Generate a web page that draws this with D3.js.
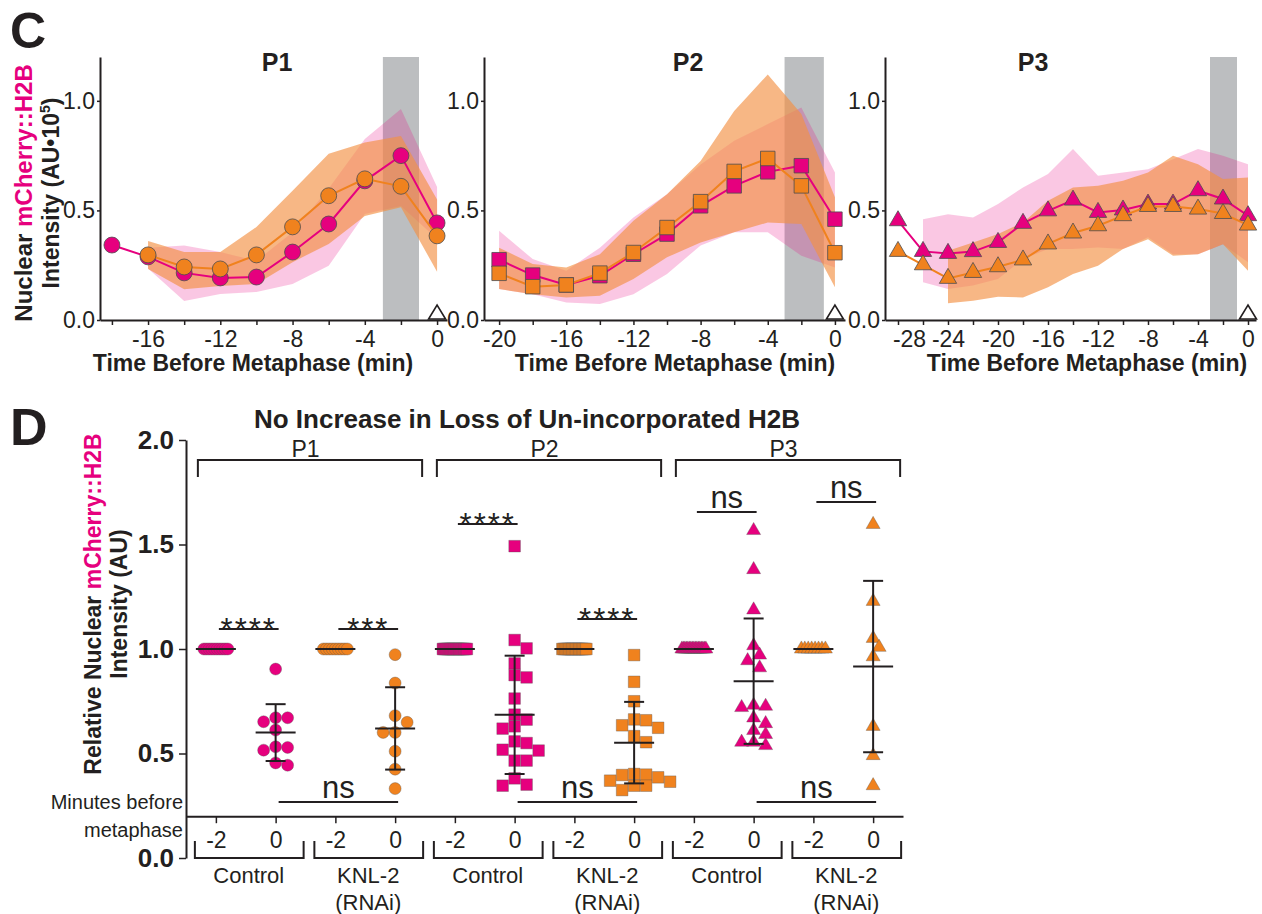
<!DOCTYPE html>
<html>
<head>
<meta charset="utf-8">
<script src="https://cdn.jsdelivr.net/npm/d3@7"></script>
<style>
  body { margin: 0; background: #fff; }
  text { font-family: "Liberation Sans", Arial, sans-serif; fill: #231f20; }
</style>
</head>
<body>
<svg id="fig" width="1262" height="914"></svg>
<script>
// ---------- Panel C : nuclear mCherry::H2B over time (AU x 10^5) ----------
const p1Times = [-18, -16, -14, -12, -10, -8, -6, -4, -2, 0];
const p1CtrlMean = [0.342, 0.288, 0.215, 0.192, 0.196, 0.31, 0.438, 0.635, 0.75, 0.443];
const p1CtrlLo   = [null, 0.235, 0.087, 0.119, 0.128, 0.164, 0.247, 0.484, 0.52, 0.37];
const p1CtrlHi   = [null, 0.33, 0.34, 0.31, 0.27, 0.40, 0.60, 0.826, 0.963, 0.607];
const p1KnlMean  = [null, 0.297, 0.242, 0.233, 0.297, 0.425, 0.567, 0.644, 0.61, 0.384];
const p1KnlLo    = [null, 0.233, 0.14, 0.155, 0.164, 0.264, 0.347, 0.475, 0.515, 0.22];
const p1KnlHi    = [null, 0.36, 0.31, 0.31, 0.424, 0.59, 0.758, 0.81, 0.84, 0.55];

const p2Times = [-20, -18, -16, -14, -12, -10, -8, -6, -4, -2, 0];
const p2CtrlMean = [0.275, 0.205, 0.16, 0.202, 0.30, 0.392, 0.521, 0.612, 0.676, 0.704, 0.46];
const p2CtrlLo   = [0.141, 0.118, 0.08, 0.073, 0.118, 0.21, 0.34, 0.40, 0.40, 0.293, 0.24];
const p2CtrlHi   = [0.407, 0.278, 0.225, 0.33, 0.468, 0.574, 0.71, 0.818, 0.894, 0.97, 0.673];
const p2KnlMean  = [0.213, 0.152, 0.16, 0.214, 0.308, 0.422, 0.54, 0.678, 0.737, 0.612, 0.307];
const p2KnlLo    = [0.141, 0.118, 0.103, 0.111, 0.187, 0.286, 0.354, 0.40, 0.445, 0.438, 0.149];
const p2KnlHi    = [0.33, 0.255, 0.24, 0.30, 0.453, 0.574, 0.726, 0.954, 1.12, 0.94, 0.56];

const p3Times = [-28, -26, -24, -22, -20, -18, -16, -14, -12, -10, -8, -6, -4, -2, 0];
const p3CtrlMean = [0.453, 0.313, 0.304, 0.312, 0.354, 0.441, 0.498, 0.547, 0.491, 0.502, 0.529, 0.529, 0.59, 0.552, 0.476];
const p3CtrlLo   = [null, 0.172, 0.141, 0.157, 0.187, 0.278, 0.324, 0.324, 0.331, 0.324, 0.377, 0.30, 0.30, 0.346, 0.263];
const p3CtrlHi   = [null, 0.46, 0.483, 0.468, 0.529, 0.605, 0.666, 0.78, 0.658, 0.673, 0.688, 0.734, 0.78, 0.75, 0.711];
const p3KnlMean  = [0.313, 0.252, 0.19, 0.217, 0.243, 0.274, 0.347, 0.397, 0.43, 0.476, 0.518, 0.518, 0.506, 0.486, 0.433];
const p3KnlLo    = [null, null, 0.076, 0.088, 0.106, 0.103, 0.149, 0.21, 0.248, 0.324, 0.369, 0.293, 0.30, 0.346, 0.225];
const p3KnlHi    = [null, null, 0.316, 0.354, 0.392, 0.445, 0.544, 0.605, 0.612, 0.635, 0.673, 0.75, 0.711, 0.643, 0.65];

// ---------- Panel D : relative intensity at -2 and 0 min ----------
const catLabels = ["-2", "0", "-2", "0", "-2", "0", "-2", "0", "-2", "0", "-2", "0"];
const condLabels = ["Control", "KNL-2|(RNAi)", "Control", "KNL-2|(RNAi)", "Control", "KNL-2|(RNAi)"];
const cellLabels = ["P1", "P2", "P3"];

const dP1CtrlM2 = [1, 1, 1, 1, 1, 1, 1, 1, 1, 1];
const dP1CtrlZ  = [0.904, 0.671, 0.652, 0.671, 0.612, 0.532, 0.516, 0.529, 0.444, 0.455];
const dP1KnlM2  = [1, 1, 1, 1, 1, 1, 1, 1, 1];
const dP1KnlZ   = [0.973, 0.837, 0.681, 0.649, 0.601, 0.601, 0.511, 0.425, 0.332];
const dP2CtrlM2 = [1, 1, 1, 1, 1, 1, 1, 1, 1, 1, 1, 1, 1, 1, 1, 1, 1, 1, 1, 1];
const dP2CtrlZ  = [1.492, 1.043, 1.003, 0.931, 0.875, 0.864, 0.763, 0.686, 0.662, 0.619, 0.630, 0.55, 0.558, 0.518, 0.514, 0.466, 0.466, 0.381, 0.346, 0.351];
const dP2KnlM2  = [1, 1, 1, 1, 1, 1, 1, 1, 1, 1, 1, 1, 1, 1, 1, 1, 1, 1];
const dP2KnlZ   = [0.971, 0.843, 0.75, 0.659, 0.623, 0.635, 0.663, 0.583, 0.554, 0.397, 0.402, 0.37, 0.399, 0.365, 0.346, 0.325, 0.346, 0.386];
const dP3CtrlM2 = [1, 1, 1, 1, 1, 1, 1, 1, 1, 1, 1, 1, 1, 1, 1, 1, 1];
const dP3CtrlZ  = [1.567, 1.38, 1.187, 1.016, 0.944, 0.971, 0.91, 0.726, 0.731, 0.72, 0.67, 0.643, 0.61, 0.591, 0.554, 0.554, 0.538];
const dP3KnlM2  = [1, 1, 1, 1, 1, 1, 1, 1];
const dP3KnlZ   = [1.596, 1.228, 1.051, 1.008, 0.963, 0.63, 0.49, 0.346];

const groupMean = [1, 0.60, 1, 0.62, 1, 0.685, 1, 0.552, 1, 0.846, 1, 0.916];
const groupSD   = [0, 0.136, 0, 0.197, 0, 0.283, 0, 0.195, 0, 0.30, 0, 0.41];

// significance: [from category, to category, height (AU), label]
const sigTests = [
  [0, 1, 1.096, "****"], [2, 3, 1.096, "***"],
  [4, 5, 1.598, "****"], [6, 7, 1.144, "****"],
  [8, 9, 1.656, "ns"], [10, 11, 1.703, "ns"],
  [1, 3, 0.268, "ns"], [5, 7, 0.268, "ns"], [9, 11, 0.268, "ns"]
];

const MAG = "#e6007e", ORG = "#f0821e";
const svg = d3.select("#fig");

// panel letters
svg.append("text").attr("x", 10).attr("y", 48).attr("font-size", 50).attr("font-weight", "bold").text("C");
svg.append("text").attr("x", 10).attr("y", 445).attr("font-size", 52).attr("font-weight", "bold").text("D");

function rows(times, m, lo, hi) {
  return times.map((t, i) => ({ t: t, m: m[i], lo: lo[i], hi: hi[i] }));
}

const panels = [
  { title: "P1", titleX: 277, axTitleX: 253, shape: d3.symbolCircle, size: 200,
    xr: [100, 447], dom: [-18.66, 0.55], win: [-3, -1], times: p1Times,
    ctrl: rows(p1Times, p1CtrlMean, p1CtrlLo, p1CtrlHi), knl: rows(p1Times, p1KnlMean, p1KnlLo, p1KnlHi) },
  { title: "P2", titleX: 688, axTitleX: 675, shape: d3.symbolSquare, size: 210,
    xr: [484, 845], dom: [-20.9, 0.6], win: [-3, -0.66], times: p2Times,
    ctrl: rows(p2Times, p2CtrlMean, p2CtrlLo, p2CtrlHi), knl: rows(p2Times, p2KnlMean, p2KnlLo, p2KnlHi) },
  { title: "P3", titleX: 1033, axTitleX: 1087, shape: d3.symbolTriangle, size: 130,
    xr: [885, 1256], dom: [-29.04, 0.64], win: [-3.04, -0.88], times: p3Times,
    ctrl: rows(p3Times, p3CtrlMean, p3CtrlLo, p3CtrlHi), knl: rows(p3Times, p3KnlMean, p3KnlLo, p3KnlHi) }
];

const yC = d3.scaleLinear().domain([0, 1.2]).range([320, 57]);

panels.forEach(p => {
  const x = d3.scaleLinear().domain(p.dom).range(p.xr);
  const g = svg.append("g");

  g.append("rect")
    .attr("x", x(p.win[0])).attr("width", x(p.win[1]) - x(p.win[0]))
    .attr("y", yC(1.2)).attr("height", yC(0) - yC(1.2))
    .attr("fill", "#bcbec0");

  const area = d3.area().defined(d => d.hi != null)
    .x(d => x(d.t)).y0(d => yC(d.lo)).y1(d => yC(d.hi));
  const line = d3.line().defined(d => d.m != null)
    .x(d => x(d.t)).y(d => yC(d.m));

  g.append("path").datum(p.ctrl).attr("d", area).attr("fill", MAG).attr("fill-opacity", 0.22);
  g.append("path").datum(p.knl).attr("d", area).attr("fill", "#f39044").attr("fill-opacity", 0.65);

  [[p.ctrl, MAG], [p.knl, ORG]].forEach(([data, col]) => {
    g.append("path").datum(data).attr("d", line)
      .attr("fill", "none").attr("stroke", col).attr("stroke-width", 2);
    g.selectAll(null).data(data.filter(d => d.m != null)).enter()
      .append("path")
      .attr("transform", d => `translate(${x(d.t)},${yC(d.m)})`)
      .attr("d", d3.symbol().type(p.shape).size(p.size))
      .attr("fill", col).attr("stroke", "#4d4d4f").attr("stroke-width", 0.8);
  });

  // metaphase marker (open triangle at 0)
  const x0 = x(0), yb = yC(0) - 1;
  g.append("path")
    .attr("d", `M${x0 - 8.5},${yb} L${x0 + 8.5},${yb} L${x0},${yb - 14} Z`)
    .attr("fill", "#fff").attr("stroke", "#231f20").attr("stroke-width", 1.6);

  const ax = g.append("g").attr("transform", `translate(0,${yC(0)})`)
    .call(d3.axisBottom(x).tickValues(d3.range(p.times[0], 1, 2))
      .tickFormat(d => d % 4 === 0 ? String(d) : "").tickSize(5).tickSizeOuter(0).tickPadding(6));
  ax.selectAll("text").attr("font-size", 23).attr("font-family", null)
    .attr("dx", d => d === -28 ? 11 : 0);

  const ay = g.append("g").attr("transform", `translate(${p.xr[0]},0)`)
    .call(d3.axisLeft(yC).tickValues([0, 0.5, 1]).tickFormat(d3.format(".1f"))
      .tickSize(3).tickSizeOuter(0).tickPadding(2));
  ay.selectAll("text").attr("font-size", 23).attr("font-family", null);

  [ax, ay].forEach(a => {
    a.select(".domain").attr("stroke", "#231f20").attr("stroke-width", 2);
    a.selectAll(".tick line").attr("stroke", "#231f20").attr("stroke-width", 1.5);
  });

  g.append("text").attr("x", p.titleX).attr("y", 71).attr("text-anchor", "middle")
    .attr("font-size", 25).attr("font-weight", "bold").text(p.title);
  g.append("text").attr("x", p.axTitleX).attr("y", 371).attr("text-anchor", "middle")
    .attr("font-size", 23).attr("font-weight", "bold").text("Time Before Metaphase (min)");
});

// y title panel C
const yt1 = svg.append("text").attr("transform", "translate(32,193) rotate(-90)")
  .attr("text-anchor", "middle").attr("font-size", 24).attr("font-weight", "bold");
yt1.append("tspan").text("Nuclear ");
yt1.append("tspan").style("fill", MAG).text("mCherry::H2B");
const yt2 = svg.append("text").attr("transform", "translate(59,193) rotate(-90)")
  .attr("text-anchor", "middle").attr("font-size", 23).attr("font-weight", "bold");
yt2.append("tspan").text("Intensity (AU\u202210");
yt2.append("tspan").attr("font-size", 14).attr("dy", -9).text("5");
yt2.append("tspan").attr("dy", 9).text(")");

// ---------- Panel D ----------
const xD = d3.scalePoint().domain(d3.range(12)).range([186, 903]).padding(0.5);
const yD = d3.scaleLinear().domain([0, 2]).range([858, 440]);
const dg = svg.append("g");

dg.append("text").attr("x", 527).attr("y", 428).attr("text-anchor", "middle")
  .attr("font-size", 26).attr("font-weight", "bold").text("No Increase in Loss of Un-incorporated H2B");

const groups = [dP1CtrlM2, dP1CtrlZ, dP1KnlM2, dP1KnlZ, dP2CtrlM2, dP2CtrlZ, dP2KnlM2, dP2KnlZ,
                dP3CtrlM2, dP3CtrlZ, dP3KnlM2, dP3KnlZ];
const dShapes = [d3.symbolCircle, d3.symbolSquare, d3.symbolTriangle];
const dSizes = [113, 135, 85];

function swarm(vals, d) {
  const n = vals.length;
  if (vals.every(v => v === vals[0])) return vals.map((v, i) => n === 1 ? 0 : -12 + 24 * i / (n - 1));
  const off = new Array(n), placed = [];
  d3.range(n).sort((a, b) => vals[b] - vals[a]).forEach(i => {
    const py = yD(vals[i]);
    for (let k = 0; k < 60; k++) {
      const o = (k % 2 ? 1 : -1) * Math.ceil(k / 2) * d / 2;
      if (placed.every(q => Math.hypot(q.x - o, q.y - py) >= d * 0.9)) {
        off[i] = o; placed.push({ x: o, y: py }); break;
      }
    }
  });
  return off;
}

groups.forEach((vals, gi) => {
  const cell = Math.floor(gi / 4);
  const col = (Math.floor(gi / 2) % 2) ? ORG : MAG;
  const offs = swarm(vals, 12);
  dg.selectAll(null).data(vals).enter().append("path")
    .attr("transform", (v, i) => `translate(${xD(gi) + offs[i]},${yD(v)})`)
    .attr("d", d3.symbol().type(dShapes[cell]).size(dSizes[cell]))
    .attr("fill", col).attr("stroke", "#555").attr("stroke-opacity", 0.6).attr("stroke-width", 0.6);
});

// mean +/- SD
groupMean.forEach((m, gi) => {
  const cx = xD(gi);
  dg.append("line").attr("x1", cx - 20).attr("x2", cx + 20).attr("y1", yD(m)).attr("y2", yD(m))
    .attr("stroke", "#231f20").attr("stroke-width", 2);
  const s = groupSD[gi];
  if (s > 0) {
    dg.append("line").attr("x1", cx).attr("x2", cx).attr("y1", yD(m - s)).attr("y2", yD(m + s))
      .attr("stroke", "#231f20").attr("stroke-width", 2);
    [m - s, m + s].forEach(v => dg.append("line").attr("x1", cx - 10).attr("x2", cx + 10)
      .attr("y1", yD(v)).attr("y2", yD(v)).attr("stroke", "#231f20").attr("stroke-width", 2));
  }
});

// axes
const axD = dg.append("g").attr("transform", `translate(0,${yD(0.2)})`)
  .call(d3.axisBottom(xD).tickFormat(i => catLabels[i]).tickSize(7).tickSizeOuter(0).tickPadding(8));
axD.selectAll("text").attr("font-size", 23).attr("font-family", null);
const ayD = dg.append("g").attr("transform", "translate(186,0)")
  .call(d3.axisLeft(yD).tickValues([0, 0.5, 1, 1.5, 2]).tickFormat(d3.format(".1f"))
    .tickSize(7).tickSizeOuter(0).tickPadding(5));
ayD.selectAll("text").attr("font-size", 26).attr("font-weight", "bold").attr("font-family", null);
[axD, ayD].forEach(a => {
  a.select(".domain").attr("stroke", "#231f20").attr("stroke-width", 2);
  a.selectAll(".tick line").attr("stroke", "#231f20").attr("stroke-width", 1.5);
});

dg.append("text").attr("x", 183).attr("y", 809).attr("text-anchor", "end").attr("font-size", 20).text("Minutes before");
dg.append("text").attr("x", 183).attr("y", 837).attr("text-anchor", "end").attr("font-size", 20).text("metaphase");

// condition brackets
condLabels.forEach((lab, k) => {
  const x1 = xD(2 * k) - 21, x2 = xD(2 * k + 1) + 28;
  dg.append("path").attr("d", `M${x1},841V858H${x2}V841`)
    .attr("fill", "none").attr("stroke", "#231f20").attr("stroke-width", 2);
  const cx = (xD(2 * k) + xD(2 * k + 1)) / 2 + 3;
  lab.split("|").forEach((s, j) => dg.append("text").attr("x", cx).attr("y", 883 + j * 27)
    .attr("text-anchor", "middle").attr("font-size", 22).text(s));
});

// cell brackets
cellLabels.forEach((lab, k) => {
  const x1 = xD(4 * k) - 18, x2 = xD(4 * k + 3) + 27;
  dg.append("path").attr("d", `M${x1},477V460H${x2}V477`)
    .attr("fill", "none").attr("stroke", "#231f20").attr("stroke-width", 2);
  dg.append("text").attr("x", (xD(4 * k) + xD(4 * k + 3)) / 2).attr("y", 457)
    .attr("text-anchor", "middle").attr("font-size", 23).text(lab);
});

// significance
sigTests.forEach(([a, b, h, lab]) => {
  const x1 = xD(a) + 3, x2 = xD(b) + 3, yy = yD(h);
  dg.append("line").attr("x1", x1).attr("x2", x2).attr("y1", yy).attr("y2", yy)
    .attr("stroke", "#231f20").attr("stroke-width", 2);
  const stars = lab !== "ns";
  dg.append("text").attr("x", (x1 + x2) / 2).attr("y", stars ? yy + 11 : yy - 4)
    .attr("text-anchor", "middle").attr("font-size", 31)
    .attr("letter-spacing", stars ? 2 : 0).text(lab);
});

// y title panel D
const yd1 = svg.append("text").attr("transform", "translate(101,604) rotate(-90)")
  .attr("text-anchor", "middle").attr("font-size", 23).attr("font-weight", "bold");
yd1.append("tspan").text("Relative Nuclear ");
yd1.append("tspan").style("fill", MAG).text("mCherry::H2B");
svg.append("text").attr("transform", "translate(127,604) rotate(-90)")
  .attr("text-anchor", "middle").attr("font-size", 23).attr("font-weight", "bold").text("Intensity (AU)");
</script>
</body>
</html>
